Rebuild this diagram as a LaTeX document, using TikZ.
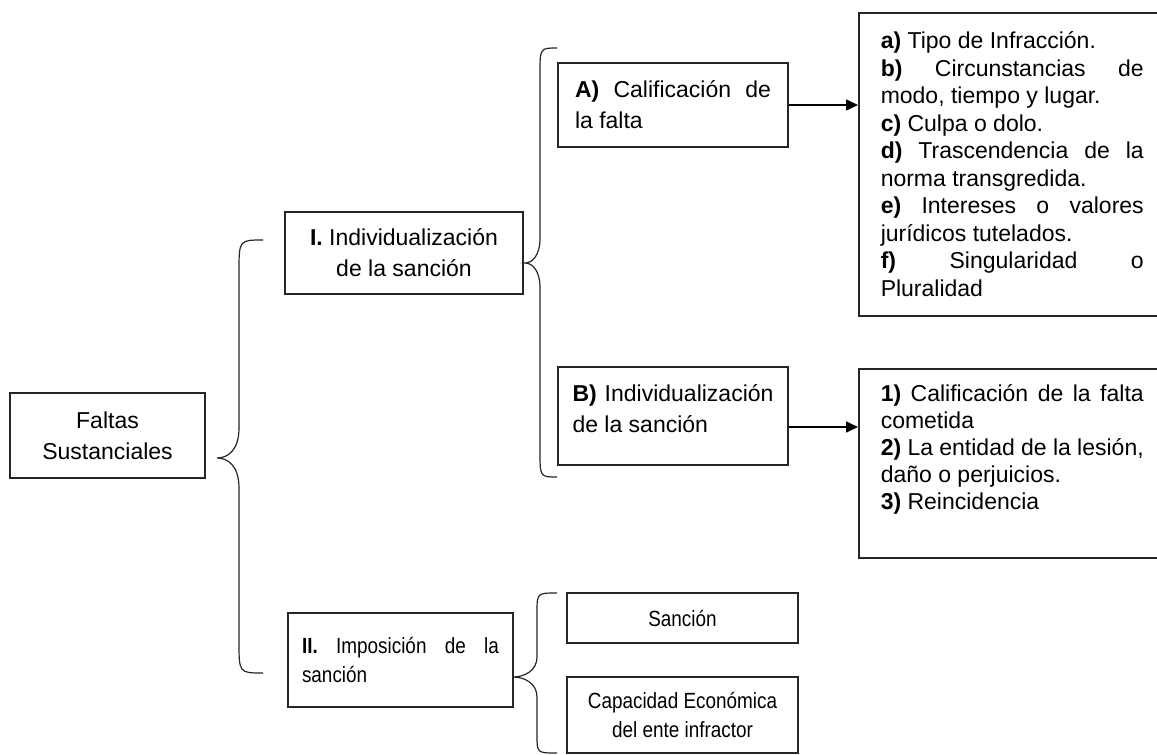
\documentclass[tikz,border=0pt]{standalone}
\usepackage{fontspec}
\setmainfont{Liberation Sans}
\newfontfamily\estrechafont{Liberation Sans}[FakeStretch=0.86]
\usetikzlibrary{arrows.meta}
\hyphenpenalty=10000
\exhyphenpenalty=10000

\begin{document}
\begin{tikzpicture}[x=1pt,y=-1pt,
	caja/.style={draw=black!85, line width=1.5pt, inner sep=0pt, text=black},
	ancha/.style={font=\fontsize{23}{31}\selectfont},
	lista/.style={font=\fontsize{23}{27.5}\selectfont, align=justify, text width=263},
	estrecha/.style={font=\estrechafont\fontsize{22}{29}\selectfont},
	llave/.style={line width=1.2pt, draw=black!85},
	flecha/.style={-{Triangle[length=12pt,width=11pt]}, line width=1.6pt, draw=black}]
	\path[use as bounding box, fill=white] (0,0) rectangle (1157,755);
	\clip (0,0) rectangle (1157,755);

	\node[caja, ancha, minimum width=195, minimum height=85, align=center](fs) at (107.5,435.5){Faltas\\Sustanciales};
	\node[caja, ancha, minimum width=238, minimum height=82, align=center](ind) at (404,253){\textbf{I.} Individualización\\de la sanción};
	\node[caja, estrecha, minimum width=225, minimum height=94, align=justify, text width=197](imp) at (400.5,660){\textbf{II.} Imposición de la sanción};

	\node[caja, ancha, minimum width=230, minimum height=84, align=justify, text width=196](calA) at (673,105){\textbf{A)} Calificación de la falta};
	\node[caja, ancha, minimum width=230, minimum height=98, align=justify, text width=201](calB) at (673,416){\textbf{B)} Individualización de la sanción\par\vspace{14pt}};

	\node[caja, lista, minimum width=307, minimum height=303, anchor=north west](crit) at (858,12){\textbf{a)} Tipo de Infracción.\par
		\textbf{b)} Circunstancias de modo, tiempo y lugar.\par
		\textbf{c)} Culpa o dolo.\par
		\textbf{d)} Trascendencia de la norma transgredida.\par
		\textbf{e)} Intereses o valores jurídicos tutelados.\par
		\textbf{f)} Singularidad o Pluralidad};
	\node[caja, lista, font=\fontsize{23}{27}\selectfont, minimum width=307, minimum height=189, anchor=north west](fact) at (858,368){\textbf{1)} Calificación de la falta cometida\par
		\textbf{2)} La entidad de la lesión, daño o perjuicios.\par
		\textbf{3)} Reincidencia\par\vspace{28pt}};

	\node[caja, estrecha, minimum width=231, minimum height=50](san) at (682.5,618){Sanción};
	\node[caja, estrecha, minimum width=231, minimum height=76, align=center](cap) at (682.5,715){Capacidad Económica\\del ente infractor};

	\draw[flecha] (calA.east) -- (calA.east -| crit.west);
	\draw[flecha] ([yshift=-11pt]calB.east) -- ([yshift=-11pt]calB.east -| fact.west);

	% llaves
	\draw[llave] (263,240) .. controls (239,240) .. (239,272) -- (239,428) .. controls (239,450) and (228,458) .. (217,458) .. controls (228,458) and (239,466) .. (239,488) -- (239,641) .. controls (239,673) .. (263,673);
	\draw[llave] (557,48) .. controls (540,48) .. (540,74) -- (540,238) .. controls (540,256) and (532,263) .. (525,263) .. controls (532,263) and (540,270) .. (540,288) -- (540,451) .. controls (540,477) .. (557,477);
	\draw[llave] (557,593) .. controls (537,593) .. (537,613) -- (537,657) .. controls (537,671) and (524,677) .. (513,677) .. controls (524,677) and (537,683) .. (537,697) -- (537,735) .. controls (537,753) .. (557,753);
\end{tikzpicture}
\end{document}
